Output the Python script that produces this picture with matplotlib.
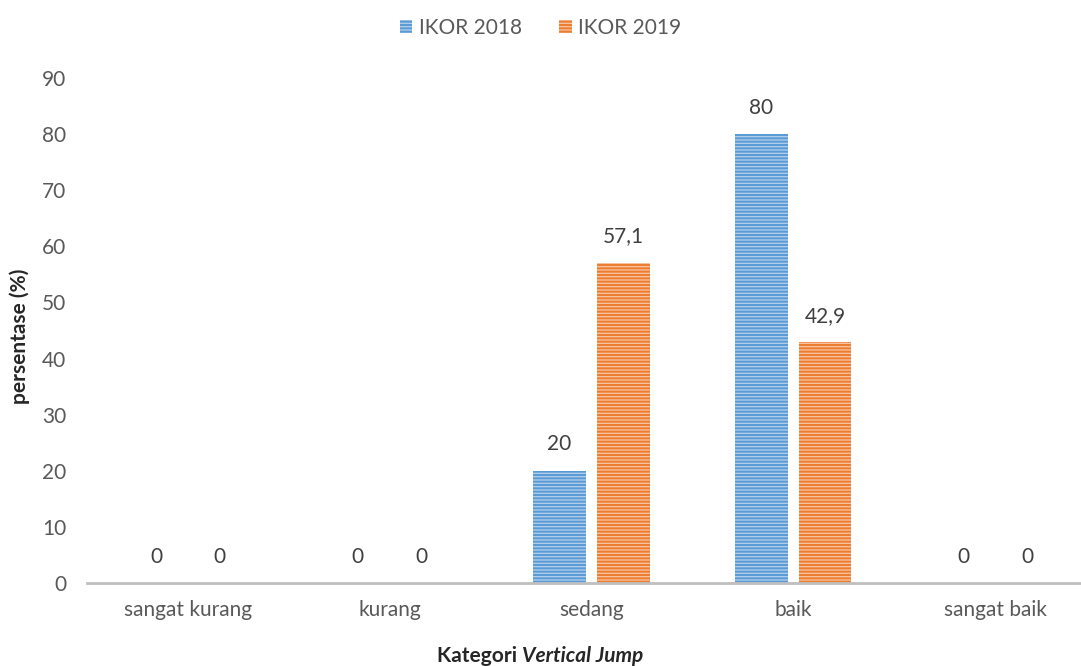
import numpy as np
import matplotlib.pyplot as plt
from matplotlib.offsetbox import TextArea, HPacker, AnchoredOffsetbox

plt.rcParams['font.family'] = ['Lato', 'DejaVu Sans']
plt.rcParams['hatch.linewidth'] = 1.5

categories = ['sangat kurang', 'kurang', 'sedang', 'baik', 'sangat baik']
ikor_2018 = [0, 0, 20, 80, 0]
ikor_2019 = [0, 0, 57.1, 42.9, 0]
series_names = ['IKOR 2018', 'IKOR 2019']

def fmt(v):
    return f'{v:g}'.replace('.', ',')

fig = plt.figure(figsize=(10.81, 6.66), dpi=100)
ax = fig.add_axes([87 / 1081, 83 / 666, (1096 - 87) / 1081, 505 / 666])

x = np.arange(len(categories))
w = 0.26
off = 0.158
b1 = ax.bar(x - off, ikor_2018, w, facecolor='#B4D1EC', edgecolor='#5B9BD5',
            linewidth=0, hatch='-----', label=series_names[0])
b2 = ax.bar(x + off, ikor_2019, w, facecolor='#F8C6A4', edgecolor='#ED7D31',
            linewidth=0, hatch='-----', label=series_names[1])

for bars, vals in [(b1, ikor_2018), (b2, ikor_2019)]:
    for r, v in zip(bars, vals):
        ax.annotate(fmt(v), (r.get_x() + r.get_width() / 2, v),
                    xytext=(0, 19), textcoords='offset points',
                    ha='center', va='center', fontsize=15, color='#404040')

ax.set_ylim(0, 90)
ax.set_xlim(-0.5, 4.5)
ax.set_yticks(range(0, 91, 10))
ax.set_xticks(x)
ax.set_xticklabels(categories)
ax.tick_params(axis='both', length=0, labelsize=15, labelcolor='#595959')
ax.tick_params(axis='y', pad=15)
ax.tick_params(axis='x', pad=12)
for s in ['top', 'right', 'left']:
    ax.spines[s].set_visible(False)
ax.spines['bottom'].set_color('#BFBFBF')
ax.spines['bottom'].set_linewidth(2)

fig.text(20 / 1081, 330 / 666, 'persentase (%)', rotation=90, ha='center', va='center',
         fontsize=15, fontweight='bold', color='#262626')

t1 = TextArea('Kategori ', textprops=dict(fontsize=15, fontweight='bold', color='#262626'))
t2 = TextArea('Vertical Jump', textprops=dict(fontsize=15, fontweight='bold', style='italic', color='#262626'))
box = HPacker(children=[t1, t2], pad=0, sep=0, align='baseline')
ab = AnchoredOffsetbox(loc='center', child=box, frameon=False,
                       bbox_to_anchor=(0.5, 10 / 666), bbox_transform=fig.transFigure, pad=0, borderpad=0)
fig.add_artist(ab)

fig.legend(handles=[b1, b2], loc='center', bbox_to_anchor=(0.5, 1 - 28 / 666), ncol=2,
           frameon=False, fontsize=15, handlelength=0.6, handleheight=0.6,
           handletextpad=0.3, columnspacing=1.8, labelcolor='#595959')

plt.savefig('out.png', dpi=100)
